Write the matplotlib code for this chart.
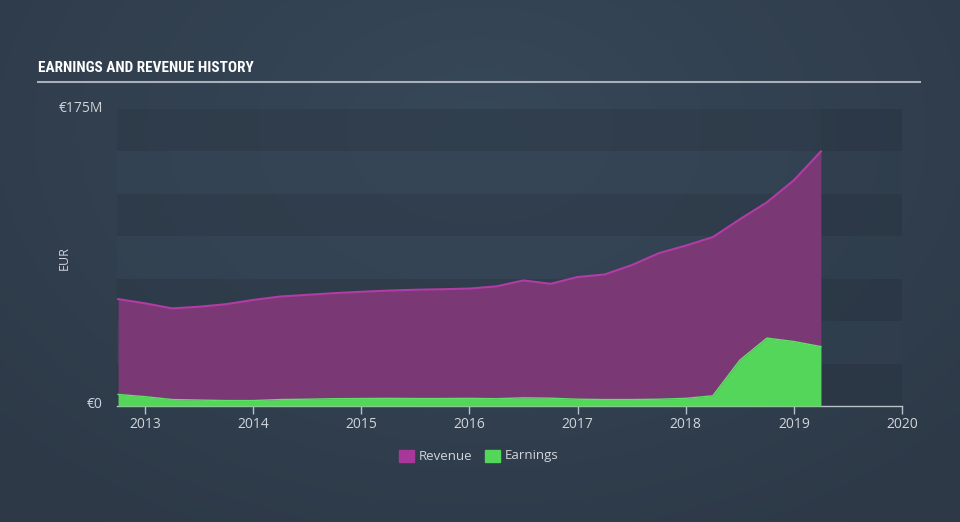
import numpy as np
import matplotlib
matplotlib.use("Agg")
import matplotlib.pyplot as plt
from matplotlib.patches import Rectangle

# ---- data (EUR millions), quarterly ----
dates = [2012.75, 2013.0, 2013.25, 2013.5, 2013.75, 2014.0, 2014.25, 2014.5, 2014.75,
         2015.0, 2015.25, 2015.5, 2015.75, 2016.0, 2016.25, 2016.5, 2016.75,
         2017.0, 2017.25, 2017.5, 2017.75, 2018.0, 2018.25, 2018.5, 2018.75,
         2019.0, 2019.25]
revenue = [63, 60.5, 57.5, 58.5, 60, 62.5, 64.5, 65.5, 66.5,
           67.3, 68, 68.5, 68.8, 69.2, 70.5, 74, 72,
           76, 77.5, 83, 90, 94.5, 99.5, 110, 120,
           133, 150]
earnings = [6.8, 5.5, 3.8, 3.5, 3.2, 3.2, 3.8, 4.0, 4.3,
            4.4, 4.5, 4.4, 4.4, 4.5, 4.3, 4.8, 4.6,
            4.0, 3.8, 3.8, 4.0, 4.5, 6.0, 27, 40,
            38, 35]
year_ticks = [2013, 2014, 2015, 2016, 2017, 2018, 2019, 2020]
y_max = 175

BG = "#323f4e"
fig = plt.figure(figsize=(9.6, 5.22), dpi=100, facecolor=BG)

# background gradient
bg_ax = fig.add_axes([0, 0, 1, 1], zorder=-10)
bg_ax.axis("off")
yy, xx = np.mgrid[0:1:200j, 0:1:200j]
r = np.sqrt(((xx - 0.5) / 0.7) ** 2 + ((yy - 0.25) / 0.9) ** 2)
base = np.array([0x2d, 0x39, 0x47]) / 255
top = np.array([0x37, 0x48, 0x59]) / 255
t = np.clip(1 - r, 0, 1)[..., None]
img = base + (top - base) * t
bg_ax.imshow(img, extent=[0, 1, 0, 1], aspect="auto", origin="upper")
bg_ax.set_xlim(0, 1); bg_ax.set_ylim(0, 1)

ax = fig.add_axes([117 / 960, 1 - 406 / 522, 785 / 960, 297 / 522])
ax.set_facecolor("none")
x0, x1 = 2012.74, 2020.0
ax.set_xlim(x0, x1)
ax.set_ylim(0, y_max)

# bands
for i in range(7):
    lo = i * 25
    col = "#2c3947" if i % 2 == 0 else "#354555"
    ax.axhspan(lo, lo + 25, color=col, alpha=0.55, lw=0, zorder=0)
# future region slightly darker
ax.axvspan(dates[-1], x1, color="#1f2935", alpha=0.12, lw=0, zorder=0.5)

ax.fill_between(dates, revenue, color="#7a3874", lw=0, zorder=2)
ax.plot(dates, revenue, color="#b23ca6", lw=1.5, zorder=3)
ax.fill_between(dates, earnings, color="#53d65a", lw=0, zorder=4)
ax.plot(dates, earnings, color="#5fe066", lw=1.0, zorder=5)

for s in ["top", "right", "left"]:
    ax.spines[s].set_visible(False)
ax.spines["bottom"].set_color("#b8c0c8")
ax.spines["bottom"].set_linewidth(1)
ax.set_yticks([])
ax.set_xticks(year_ticks)
ax.set_xticklabels([str(y) for y in year_ticks])
ax.tick_params(axis="x", colors="#b8c0c8", length=6, width=1, pad=2,
               labelsize=10, labelcolor="#d0d5da")
for lab in ax.get_xticklabels():
    lab.set_family(["Open Sans", "DejaVu Sans"])

# y labels
fig.text(103 / 960, 1 - 109 / 522, "€175M", ha="right", va="center", color="#d0d5da",
         fontsize=10, family=["Open Sans", "DejaVu Sans"])
fig.text(103 / 960, 1 - 404 / 522, "€0", ha="right", va="center", color="#d0d5da",
         fontsize=10, family=["Open Sans", "DejaVu Sans"])
fig.text(64 / 960, 1 - 258 / 522, "EUR", ha="center", va="center", rotation=90,
         color="#d0d5da", fontsize=9, family=["Open Sans", "DejaVu Sans"])

# title
fig.text(38 / 960, 1 - 68 / 522, "EARNINGS AND REVENUE HISTORY", ha="left", va="center",
         color="white", fontsize=11, fontweight="bold",
         family=["Liberation Sans Narrow", "Roboto Condensed", "Roboto", "DejaVu Sans"])
fig.add_artist(plt.Line2D([38 / 960, 920 / 960], [1 - 82 / 522, 1 - 82 / 522],
                          color="#a9b0b8", lw=1.5))

# legend
for xs, col, label in [(399, "#a8379a", "Revenue"), (485, "#53d65a", "Earnings")]:
    fig.add_artist(Rectangle((xs / 960, 1 - 462 / 522), 15 / 960, 12 / 522,
                             color=col, transform=fig.transFigure))
    fig.text((xs + 20) / 960, 1 - 456 / 522, label, ha="left", va="center",
             color="#d0d5da", fontsize=9.5, family=["Open Sans", "DejaVu Sans"])

fig.savefig("out.png", dpi=100, facecolor=BG)
